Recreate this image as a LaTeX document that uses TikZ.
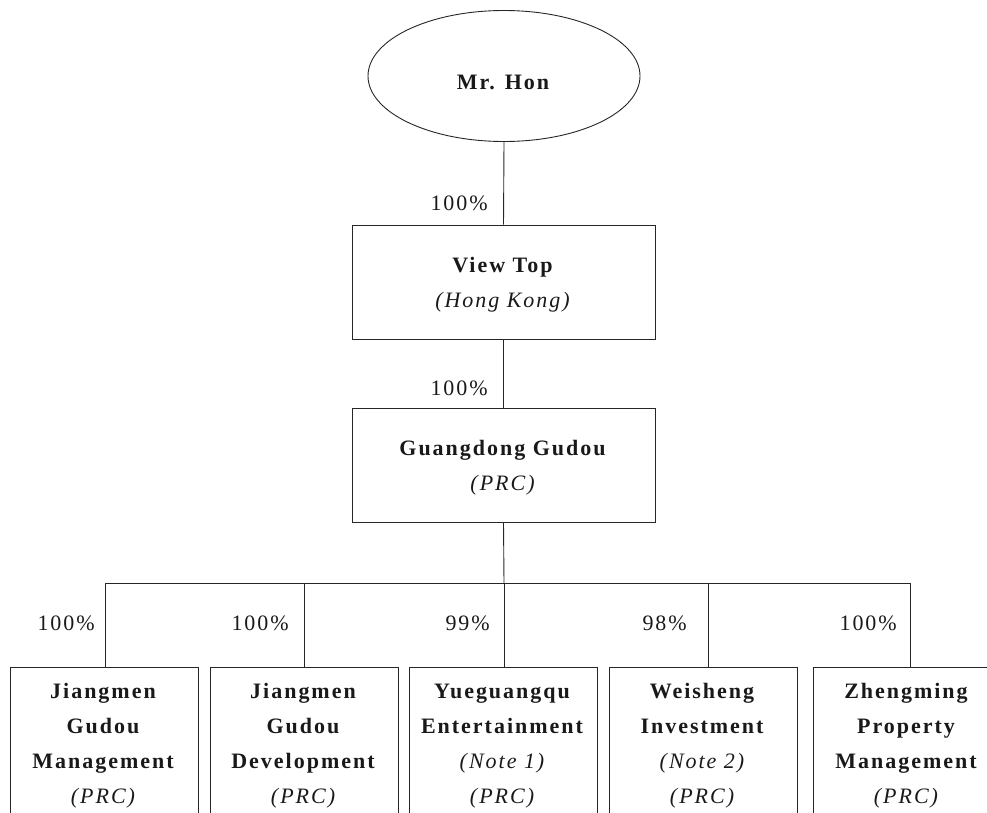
\documentclass[tikz,border=0pt]{standalone}
\usepackage{fontspec}
\setmainfont{Liberation Serif}[LetterSpace=9]
\usetikzlibrary{shapes.geometric}
\newcommand\tstrut[1]{\rule{0pt}{#1}}
\begin{document}
\begin{tikzpicture}[x=1pt,y=-1pt,
  link/.style={draw=black!85, line width=0.9pt},
  txt/.style={font=\fontsize{22}{35}\selectfont, text=black!90},
  ent/.style={draw=black!85, line width=0.9pt, minimum width=303pt, minimum height=114pt, align=center, inner sep=0pt, txt},
  sub/.style={draw=black!85, line width=0.9pt, minimum width=188pt, minimum height=150pt, anchor=north, align=center, inner sep=0pt, txt},
  pct/.style={anchor=east, inner sep=0pt, txt}]
\useasboundingbox (0,0) rectangle (987,812);
\clip (0,0) rectangle (987,812);
\node[ellipse, draw=black!85, line width=0.9pt, minimum width=272pt, minimum height=131pt, inner sep=0pt, txt] (hon) at (504,76) {\tstrut{28pt}\textbf{Mr. Hon}};
\node[ent] (vt) at (503.5,282) {\tstrut{21pt}\textbf{View Top}\\\textit{(Hong Kong)}};
\node[ent] (gg) at (503.5,465) {\tstrut{21pt}\textbf{Guangdong Gudou}\\\textit{(PRC)}};
\node[sub] (c1) at (104,667) {\tstrut{21pt}\textbf{Jiangmen}\\\textbf{Gudou}\\\textbf{Management}\\\textit{(PRC)}};
\node[sub] (c2) at (304,667) {\tstrut{21pt}\textbf{Jiangmen}\\\textbf{Gudou}\\\textbf{Development}\\\textit{(PRC)}};
\node[sub] (c3) at (503,667) {\tstrut{21pt}\textbf{Yueguangqu}\\\textbf{Entertainment}\\\textit{(Note 1)}\\\textit{(PRC)}};
\node[sub] (c4) at (703,667) {\tstrut{21pt}\textbf{Weisheng}\\\textbf{Investment}\\\textit{(Note 2)}\\\textit{(PRC)}};
\node[sub] (c5) at (907,667) {\tstrut{21pt}\textbf{Zhengming}\\\textbf{Property}\\\textbf{Management}\\\textit{(PRC)}};
\node[pct] (p0) at (488,203) {100\%};
\node[pct] (p1) at (488,388) {100\%};
\node[pct] (q1) at (95,623) {100\%};
\node[pct] (q2) at (289,623) {100\%};
\node[pct] (q3) at (490,623) {99\%};
\node[pct] (q4) at (687,623) {98\%};
\node[pct] (q5) at (897,623) {100\%};
\coordinate (bar) at (504,583);
\draw[link] (hon.south) -- (vt.north);
\draw[link] (vt.south) -- (gg.north);
\draw[link] (gg.south) -- (bar);
\draw[link] ([xshift=1pt]c1.north |- bar) -- ([xshift=3pt]c5.north |- bar);
\draw[link] ([xshift=1pt]c1.north) -- ([xshift=1pt]c1.north |- bar);
\draw[link] (c2.north) -- (c2.north |- bar);
\draw[link] ([xshift=1pt]c3.north) -- ([xshift=1pt]c3.north |- bar);
\draw[link] ([xshift=5pt]c4.north) -- ([xshift=5pt]c4.north |- bar);
\draw[link] ([xshift=3pt]c5.north) -- ([xshift=3pt]c5.north |- bar);
\end{tikzpicture}
\end{document}
